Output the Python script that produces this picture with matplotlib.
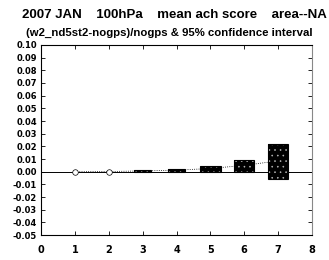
import matplotlib
matplotlib.use('Agg')
import matplotlib.pyplot as plt

plt.rcParams['font.family'] = ['Liberation Sans', 'DejaVu Sans']
plt.rcParams['font.weight'] = 'bold'
plt.rcParams['hatch.linewidth'] = 0.4

# forecast day, mean score difference, 95% confidence interval bounds
days = [1, 2, 3, 4, 5, 6, 7]
mean_diff = [0.0000, 0.0001, 0.0006, 0.0012, 0.0025, 0.0050, 0.0085]
ci_low = [0.0000, 0.0000, 0.0000, 0.0000, -0.0005, -0.0005, -0.0057]
ci_high = [0.0000, 0.0000, 0.0010, 0.0025, 0.0045, 0.0091, 0.0217]
yticks = [-0.05, -0.04, -0.03, -0.02, -0.01, 0.00, 0.01, 0.02, 0.03,
          0.04, 0.05, 0.06, 0.07, 0.08, 0.09, 0.10]

fig = plt.figure(figsize=(3.29, 2.60), dpi=100)
ax = fig.add_axes([0.125, 0.096, 0.823, 0.731])

ax.axhline(0, color='black', lw=0.7, zorder=1)
ax.plot(days, mean_diff, color='black', lw=0.6, ls=':', zorder=2)

# boxes for the confidence interval (only where visible)
for d, lo, hi in zip(days, ci_low, ci_high):
    if hi - lo <= 0:
        continue
    w = 0.6 if d >= 5 else 0.5
    ax.bar(d, hi - lo, bottom=lo, width=w, color='black', edgecolor='#bbbbbb',
           hatch='...', lw=0, zorder=3)
    ax.bar(d, hi - lo, bottom=lo, width=w, fill=False, edgecolor='black',
           lw=0.8, zorder=4)

ax.plot(days[:2], mean_diff[:2], 'o', mfc='white', mec='black', ms=4,
        mew=0.5, zorder=5)

ax.set_xlim(0, 8)
ax.set_ylim(-0.05, 0.10)
ax.set_xticks(range(9))
ax.set_yticks(yticks)
ax.set_yticklabels(['%.2f' % v for v in yticks], fontsize=6,
                   fontweight='bold', family='DejaVu Sans')
ax.set_xticklabels([str(i) for i in range(9)], fontsize=7,
                   fontweight='bold', family='DejaVu Sans')
ax.tick_params(direction='in', length=3, width=0.6, top=True, right=True)
ax.tick_params(axis='x', pad=7)
ax.tick_params(axis='y', pad=3)
for s in ax.spines.values():
    s.set_linewidth(0.8)
ax.spines['right'].set_color('#888888')

fig.text(0.067, 0.942, '2007 JAN    100hPa    mean ach score    area--NA',
         fontsize=9.5, fontweight='bold', ha='left', va='center')
fig.text(0.079, 0.873, '(w2_nd5st2-nogps)/nogps & 95% confidence interval',
         fontsize=8.2, fontweight='bold', ha='left', va='center')

plt.savefig('out.png', dpi=100)
